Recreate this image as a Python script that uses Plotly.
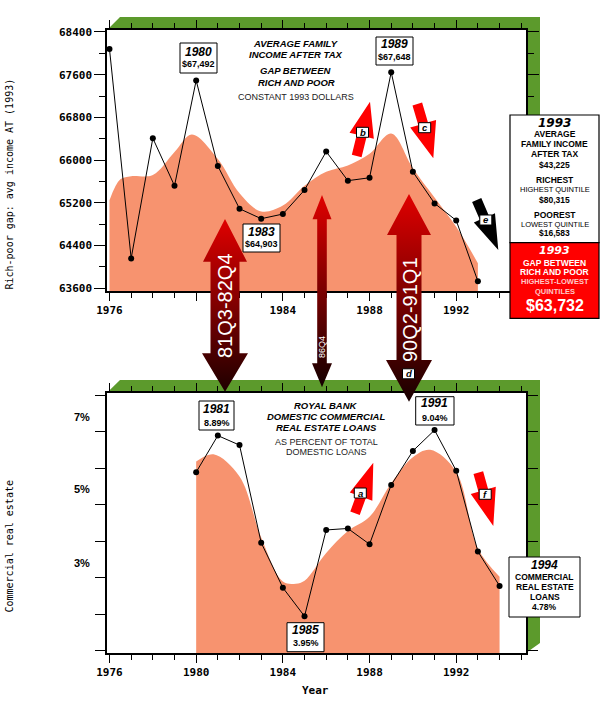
import math
import plotly.graph_objects as go

# ---------------- data ----------------
years_gap = list(range(1976, 1994))
gap_values = [68080, 64160, 66410, 65520, 67492, 65890, 65090, 64903, 64990,
              65440, 66160, 65615, 65670, 67648, 65780, 65190, 64870, 63732]

trend_gap_x = [1976.0, 1976.5, 1977.0, 1978.0, 1979.0, 1979.8, 1981.0, 1982.0, 1983.0,
               1984.0, 1985.0, 1986.0, 1987.0, 1988.0, 1989.0, 1990.0, 1991.0, 1992.0, 1993.0]
trend_gap_y = [65250, 65640, 65700, 65720, 66150, 66480, 66020, 65380, 65040,
               65150, 65520, 65780, 65900, 66120, 66500, 65850, 65300, 64750, 64070]

years_cre = list(range(1980, 1995))
cre_values = [7.89, 8.89, 8.63, 5.96, 4.73, 3.95, 6.31, 6.35, 5.92, 7.54, 8.47, 9.04, 7.93, 5.72, 4.78]

trend_cre_x = [1980.0, 1980.8, 1982.0, 1983.0, 1984.0, 1984.6, 1985.0, 1986.0, 1987.0,
               1988.0, 1989.0, 1990.0, 1990.8, 1992.0, 1993.0, 1994.0]
trend_cre_y = [8.18, 8.38, 7.77, 6.1, 4.9, 4.84, 4.92, 5.68, 6.28,
               6.67, 7.59, 8.3, 8.5, 7.9, 5.8, 5.03]

gap_ticks = [63600, 64400, 65200, 66000, 66800, 67600, 68400]
gap_tick_labels = ["63600", "64400", "65200", "66000", "66800", "67600", "68400"]
year_ticks = [1976, 1980, 1984, 1988, 1992]
top_year_labels = ["1976", "", "1984", "1988", "1992"]
bottom_year_labels = ["1976", "1980", "1984", "1988", "1992"]
cre_ticks = [3, 4, 5, 6, 7, 8, 9, 10]
cre_label_text = ["7%", "5%", "3%"]
cre_label_pos = [9.4, 7.43, 5.4]

# ---------------- geometry helpers (pixel -> paper) ----------------
W, H = 600, 726
L, R, T, B = 107, 526, 30, 653


def px(x):
    return (x - L) / (R - L)


def py(y):
    return (B - y) / (B - T)


ORANGE = "#F7936F"
GREEN = "#5C9A2C"
MONO = "DejaVu Sans Mono"
SANS = "Arial, Liberation Sans"

shapes = []
annotations = []


def poly(points, fill, layer="above", line=None, lw=0):
    d = "M " + " L ".join(f"{px(x):.5f},{py(y):.5f}" for x, y in points) + " Z"
    shapes.append(dict(type="path", path=d, xref="paper", yref="paper", fillcolor=fill,
                       line=dict(width=lw, color=line or fill), layer=layer))


def rect(x0, y0, x1, y1, fill="white", line="black", lw=1, layer="above"):
    shapes.append(dict(type="rect", xref="paper", yref="paper", x0=px(x0), x1=px(x1),
                       y0=py(y1), y1=py(y0), fillcolor=fill, line=dict(color=line, width=lw),
                       layer=layer))


def txt(x, y, text, size=9, color="black", bold=False, italic=False, family=SANS,
        angle=0, xanchor="center"):
    annotations.append(dict(x=px(x), y=py(y), xref="paper", yref="paper", text=text,
                            showarrow=False, xanchor=xanchor, yanchor="middle",
                            textangle=angle,
                            font=dict(size=size, color=color, family=family,
                                      weight="bold" if bold else "normal",
                                      style="italic" if italic else "normal")))


def arrow_pts(tail, tip, ws, wh, lh):
    dx, dy = tip[0] - tail[0], tip[1] - tail[1]
    ln = math.hypot(dx, dy)
    ux, uy = dx / ln, dy / ln
    nx, ny = -uy, ux
    neck = (tip[0] - ux * lh, tip[1] - uy * lh)
    return [
        (tail[0] + nx * ws / 2, tail[1] + ny * ws / 2),
        (neck[0] + nx * ws / 2, neck[1] + ny * ws / 2),
        (neck[0] + nx * wh / 2, neck[1] + ny * wh / 2),
        tip,
        (neck[0] - nx * wh / 2, neck[1] - ny * wh / 2),
        (neck[0] - nx * ws / 2, neck[1] - ny * ws / 2),
        (tail[0] - nx * ws / 2, tail[1] - ny * ws / 2),
    ]


def letter_box(cx, cy, letter):
    rect(cx - 6, cy - 5, cx + 6, cy + 5, "white", "black", 1)
    txt(cx, cy, letter, 9.5, bold=True, italic=True)


# ---------------- green 3-D bands ----------------
poly([(107, 30), (120, 17), (540, 17), (540, 278), (526, 291), (526, 30)], GREEN, layer="below")
poly([(107, 392.7), (120, 380), (540, 380), (540, 643), (526, 653), (526, 392.7)], GREEN, layer="below")

# ---------------- figure ----------------
fig = go.Figure()

fig.add_trace(go.Scatter(x=trend_gap_x, y=trend_gap_y, xaxis="x", yaxis="y", mode="lines",
                         fill="tozeroy", fillcolor=ORANGE,
                         line=dict(width=0, shape="spline", color=ORANGE), hoverinfo="skip"))
fig.add_trace(go.Scatter(x=years_gap, y=gap_values, xaxis="x", yaxis="y", mode="lines+markers",
                         line=dict(color="black", width=1),
                         marker=dict(color="black", size=6)))
fig.add_trace(go.Scatter(x=trend_cre_x, y=trend_cre_y, xaxis="x2", yaxis="y2", mode="lines",
                         fill="tozeroy", fillcolor=ORANGE,
                         line=dict(width=0, shape="spline", color=ORANGE), hoverinfo="skip"))
fig.add_trace(go.Scatter(x=years_cre, y=cre_values, xaxis="x2", yaxis="y2", mode="lines+markers",
                         line=dict(color="black", width=1),
                         marker=dict(color="black", size=6)))


# big double-headed gradient arrows on an overlay pixel axis
def big_arrow(cx, t_tip, t_neck, b_neck, b_tip, hh_t, hh_b, sh, c_top, c_bot):
    xs = [cx, cx + hh_t, cx + sh, cx + sh, cx + hh_b, cx, cx - hh_b, cx - sh, cx - sh, cx - hh_t, cx]
    ys = [t_tip, t_neck, t_neck, b_neck, b_neck, b_tip, b_neck, b_neck, t_neck, t_neck, t_tip]
    fig.add_trace(go.Scatter(x=xs, y=ys, xaxis="x3", yaxis="y3", mode="lines", fill="toself",
                             line=dict(width=0, color=c_bot), hoverinfo="skip",
                             fillgradient=dict(type="vertical", start=t_tip, stop=b_tip,
                                               colorscale=[[0, c_top], [1, c_bot]])))


big_arrow(225, 219, 261.7, 353.3, 391.7, 22, 23, 14.5, "#E00000", "#1E0000")
big_arrow(322, 195, 219.3, 363.3, 387.3, 9.5, 10, 4.8, "#E00000", "#140000")
big_arrow(409, 194, 235, 360, 401.7, 22, 23, 12.5, "#E00000", "#180000")

txt(225, 306, "81Q3-82Q4", 20, "white", angle=-90)
txt(322, 347, "86Q4", 9, "white", angle=-90)
txt(410, 310, "90Q2-91Q1", 20, "white", angle=-90)

# small trend arrows
poly(arrow_pts((356.7, 156), (370, 101.7), 10, 25, 35), "#FF0000")
poly(arrow_pts((417.3, 104), (433.3, 158.3), 10, 27, 36), "#FF0000")
poly(arrow_pts((476.7, 200), (498.3, 250), 10, 23, 35), "#000000")
poly(arrow_pts((355, 513.3), (373.3, 462.7), 10, 24, 36), "#FF0000")
poly(arrow_pts((478.3, 472.7), (493.3, 526), 10, 26, 37), "#FF0000")
letter_box(362.5, 132.3, "b")
letter_box(424.7, 127.7, "c")
letter_box(485.8, 220, "e")
letter_box(360.3, 493, "a")
letter_box(485.2, 494.3, "f")
letter_box(408.5, 373.8, "d")

# ---------------- chart titles ----------------
for y, s in [(43.3, "AVERAGE FAMILY"), (54.7, "INCOME AFTER TAX"), (70.7, "GAP BETWEEN"), (82, "RICH AND POOR")]:
    txt(296, y, s, 9.5, bold=True, italic=True)
txt(296, 96.7, "CONSTANT 1993 DOLLARS", 9, "#222222")

for y, s in [(406, "ROYAL BANK"), (416.5, "DOMESTIC COMMERCIAL"), (427, "REAL ESTATE LOANS")]:
    txt(326, y, s, 9.5, bold=True, italic=True)
txt(326, 442.3, "AS PERCENT OF TOTAL", 9, "#222222")
txt(326, 452, "DOMESTIC LOANS", 9, "#222222")


# ---------------- value boxes ----------------
def value_box(x0, y0, x1, y1, year, value, y_year, y_val):
    rect(x0, y0, x1, y1, "white", "black", 1)
    cx = (x0 + x1) / 2
    txt(cx, y_year, year, 12, bold=True, italic=True)
    txt(cx, y_val, value, 9, bold=True)


value_box(180, 43, 217, 73, "1980", "$67,492", 52, 64)
value_box(243, 224, 280, 252, "1983", "$64,903", 231.7, 244.3)
value_box(376, 37, 413, 65, "1989", "$67,648", 44, 57.3)
value_box(199, 401, 234, 430, "1981", "8.89%", 409.3, 422.7)
value_box(287, 622.7, 324, 651.7, "1985", "3.95%", 630, 643.3)
value_box(415.7, 396.7, 454, 425, "1991", "9.04%", 403.3, 417.7)

rect(509, 557, 580, 617, "white", "black", 1)
txt(544.5, 565, "1994", 12, bold=True, italic=True)
txt(544.5, 576.7, "COMMERCIAL", 8.5, bold=True)
txt(544.5, 586.7, "REAL ESTATE", 8.5, bold=True)
txt(544.5, 596.7, "LOANS", 8.5, bold=True)
txt(544.5, 607.3, "4.78%", 8.5, bold=True)

# 1993 summary box
rect(510, 115, 599, 242.7, "white", "black", 1.2)
rect(510, 242.7, 599, 318.3, "#FF0000", "black", 1.2)
bx = 554.5
txt(bx, 122.7, "1993", 12, bold=True, italic=True, family="DejaVu Sans")
txt(bx, 133.7, "AVERAGE", 8.5, bold=True)
txt(bx, 144.3, "FAMILY INCOME", 8.5, bold=True)
txt(bx, 153.6, "AFTER TAX", 8.5, bold=True)
txt(bx, 164.7, "$43,225", 8.5, bold=True)
txt(bx, 180, "RICHEST", 8.5, bold=True)
txt(bx, 190, "HIGHEST QUINTILE", 7.5)
txt(bx, 199.5, "$80,315", 8.5, bold=True)
txt(bx, 214.7, "POOREST", 8.5, bold=True)
txt(bx, 224, "LOWEST QUINTILE", 7.5)
txt(bx, 233.5, "$16,583", 8.5, bold=True)
txt(bx, 250, "1993", 11, "white", bold=True, italic=True, family="DejaVu Sans")
txt(bx, 263, "GAP BETWEEN", 8.5, "white", bold=True)
txt(bx, 272.3, "RICH AND POOR", 8.5, "white", bold=True)
txt(bx, 281.7, "HIGHEST-LOWEST", 7.5, "#FFC8C8", bold=True)
txt(bx, 291, "QUINTILES", 7.5, "#FFC8C8", bold=True)
txt(bx, 305, "$63,732", 16, "white", bold=True)

# axis titles and odd bottom labels
txt(8.5, 184, "Rich-poor gap: avg income AT (1993)", 10, family=MONO, angle=-90)
txt(8.5, 547, "Commercial real estate", 10, family=MONO, angle=-90)
txt(315, 690, "Year", 11, bold=True, family=MONO)
for s, v in zip(cre_label_text, cre_label_pos):
    annotations.append(dict(x=-0.035, y=v, xref="paper", yref="y2", text=s, showarrow=False,
                            xanchor="right", yanchor="middle",
                            font=dict(size=11, family=SANS, weight="bold", color="black")))

# ---------------- axes ----------------
tickfont = dict(family=MONO, size=11, color="black", weight="bold")
xcommon = dict(range=[1975.885, 1995.22], tickmode="array", tickvals=year_ticks,
               ticks="outside", ticklen=8, tickwidth=1, tickcolor="black",
               showline=True, linecolor="black", linewidth=1.5, mirror="ticks",
               showgrid=False, zeroline=False, tickfont=tickfont,
               minor=dict(tickmode="linear", tick0=1976, dtick=1, ticks="outside",
                          ticklen=5, tickcolor="black", showgrid=False))

fig.update_layout(
    width=W, height=H, autosize=False,
    margin=dict(l=L, r=W - R, t=T, b=H - B, pad=0),
    paper_bgcolor="white", plot_bgcolor="rgba(0,0,0,0)",
    showlegend=False,
    xaxis=dict(domain=[0, 1], anchor="y", ticktext=top_year_labels, **xcommon),
    yaxis=dict(domain=[py(291), 1], anchor="x", range=[63549, 68437], tickmode="array",
               tickvals=gap_ticks, ticktext=gap_tick_labels, ticks="outside", ticklen=11,
               tickcolor="black", showline=True, linecolor="black", linewidth=1.5,
               mirror="ticks", showgrid=False, zeroline=False, tickfont=tickfont,
               minor=dict(tickmode="linear", tick0=63600, dtick=400, ticks="outside",
                          ticklen=6, tickcolor="black", showgrid=False)),
    xaxis2=dict(domain=[0, 1], anchor="y2", ticktext=bottom_year_labels, **xcommon),
    yaxis2=dict(domain=[0, py(392.7)], anchor="x2", range=[2.945, 10.063], tickmode="array",
                tickvals=cre_ticks, showticklabels=False, ticks="outside", ticklen=10,
                tickcolor="black", showline=True, linecolor="black", linewidth=1.5,
                mirror="ticks", showgrid=False, zeroline=False),
    xaxis3=dict(domain=[0, 1], anchor="y3", range=[L, R], visible=False, fixedrange=True),
    yaxis3=dict(domain=[0, 1], anchor="x3", range=[B, T], visible=False, fixedrange=True),
    shapes=shapes,
    annotations=annotations,
)

fig.write_html("out.html", config={"displayModeBar": False},
               post_script="document.body.style.margin='0';document.body.style.overflow='hidden';")
